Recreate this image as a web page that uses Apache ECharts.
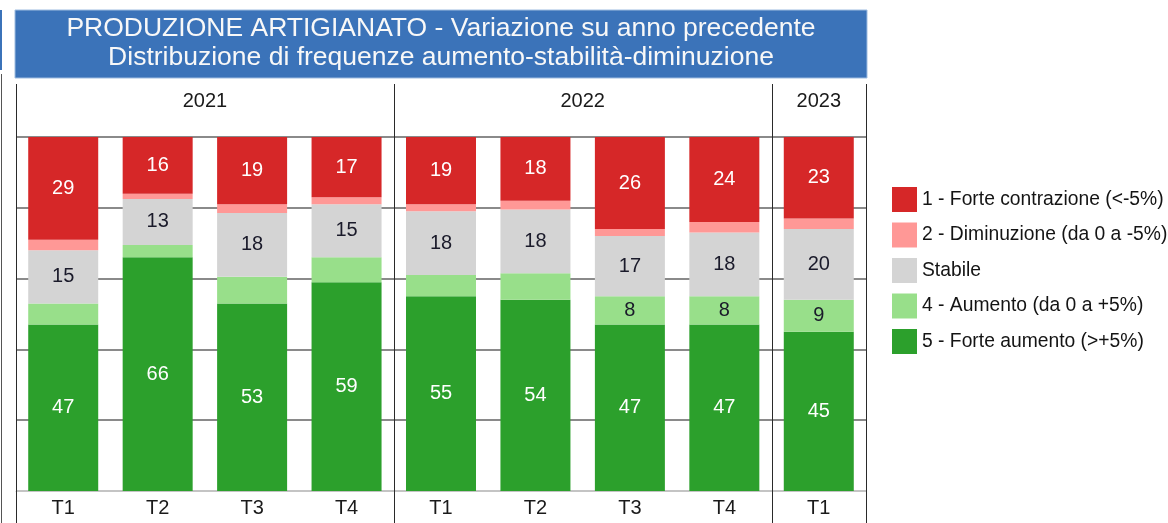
<!DOCTYPE html>
<html>
<head>
<meta charset="utf-8">
<script src="https://cdn.jsdelivr.net/npm/echarts@6/dist/echarts.min.js"></script>
<style>html,body{margin:0;padding:0;background:#fff;}#c{width:1168px;height:523px;}</style>
</head>
<body>
<div id="c"></div>
<script>
const titleLines = ['PRODUZIONE ARTIGIANATO - Variazione su anno precedente', 'Distribuzione di frequenze aumento-stabilità-diminuzione'];
const years = ['2021', '2022', '2023'];
const quarters = [['T1', 'T2', 'T3', 'T4'], ['T1', 'T2', 'T3', 'T4'], ['T1']];
const seriesNames = ['5 - Forte aumento (>+5%)', '4 - Aumento (da 0 a +5%)', 'Stabile', '2 - Diminuzione (da 0 a -5%)', '1 - Forte contrazione (<-5%)'];
const forteAumento = [47, 66, 53, 59, 55, 54, 47, 47, 45];
const aumento = [6, 3.5, 7.5, 7, 6, 7.5, 8, 8, 9];
const stabile = [15, 13, 18, 15, 18, 18, 17, 18, 20];
const diminuzione = [3, 1.5, 2.5, 2, 2, 2.5, 2, 3, 3];
const forteContrazione = [29, 16, 19, 17, 19, 18, 26, 24, 23];
const yTicks = [0, 20, 40, 60, 80, 100];

const FONT = "'Liberation Sans', Arial, sans-serif";
const colors = ['#2ca02c', '#98df8a', '#d4d4d4', '#ff9896', '#d62728'];
const labelColors = ['#ffffff', '#1a1a2a', '#1a1a2a', '#1a1a2a', '#ffffff'];
const seriesData = [forteAumento, aumento, stabile, diminuzione, forteContrazione];

const categories = [];
years.forEach((y, i) => quarters[i].forEach(q => categories.push(y + '|' + q)));

const chart = echarts.init(document.getElementById('c'), null, {renderer: 'canvas'});

const option = {
  animation: false,
  backgroundColor: '#ffffff',
  title: {
    text: titleLines.join('\n'),
    left: 441,
    textAlign: 'center',
    top: 14,
    padding: 0,
    textStyle: {color: '#f8f8f8', fontFamily: FONT, fontSize: 26.5, fontWeight: 'normal', lineHeight: 29}
  },
  legend: {
    orient: 'vertical',
    left: 887,
    top: 182,
    itemWidth: 25,
    itemHeight: 25,
    itemGap: 10.5,
    icon: 'rect',
    data: seriesNames.slice().reverse(),
    textStyle: {color: '#141414', fontFamily: FONT, fontSize: 19.3, padding: [0, 0, 0, 0]}
  },
  grid: {left: 16, right: 302, top: 137, bottom: 32, containLabel: false},
  xAxis: {
    type: 'category',
    data: categories,
    axisLine: {show: true, lineStyle: {color: '#c4c4c4', width: 1}},
    axisTick: {show: false},
    axisLabel: {
      margin: 7, color: '#1a1a1a', fontFamily: FONT, fontSize: 20,
      formatter: v => v.split('|')[1]
    }
  },
  yAxis: {
    type: 'value',
    min: yTicks[0],
    max: yTicks[yTicks.length - 1],
    interval: yTicks[1] - yTicks[0],
    axisLabel: {show: false},
    axisLine: {show: false},
    axisTick: {show: false},
    splitLine: {show: true, lineStyle: {color: ['#c4c4c4', '#8a8a8a', '#8a8a8a', '#8a8a8a', '#8a8a8a', '#8a8a8a'], width: 2}}
  },
  series: seriesNames.map((name, i) => ({
    name: name,
    type: 'bar',
    stack: 'total',
    barWidth: 70,
    itemStyle: {color: colors[i]},
    label: {
      show: true,
      position: 'inside',
      color: labelColors[i],
      fontFamily: FONT,
      fontSize: 20,
      formatter: p => (p.value >= 8 ? String(Math.round(p.value)) : '')
    },
    data: seriesData[i]
  }))
};
chart.setOption(option);

// header, separators and title box positioned through the axis scale
const px = categories.map((c, i) => chart.convertToPixel({xAxisIndex: 0}, i));
const band = px[1] - px[0];
const graphics = [];
const boundaries = [px[0] - band / 2];
let idx = 0;
years.forEach((y, i) => {
  const start = idx;
  idx += quarters[i].length;
  const left = px[start] - band / 2;
  const right = px[idx - 1] + band / 2;
  boundaries.push(right);
  graphics.push({type: 'text', z: 10, style: {text: y, x: (left + right) / 2, y: 101, align: 'center', verticalAlign: 'middle', fill: '#1a1a1a', font: '20px ' + FONT}});
});
boundaries.forEach(x => {
  graphics.push({type: 'line', z: 20, shape: {x1: Math.round(x) + 0.5, y1: 84, x2: Math.round(x) + 0.5, y2: 523}, style: {stroke: '#2a2a2a', lineWidth: 1}});
});
graphics.push({type: 'rect', z: -1, shape: {x: boundaries[0] - 1, y: 10, width: boundaries[boundaries.length - 1] - boundaries[0] + 2, height: 68}, style: {fill: '#3b73b9', stroke: '#9fbde0', lineWidth: 1}});
graphics.push({type: 'rect', z: -1, shape: {x: 0, y: 10, width: 2, height: 60}, style: {fill: '#3b73b9'}});
graphics.push({type: 'line', z: 20, shape: {x1: 1.5, y1: 74, x2: 1.5, y2: 523}, style: {stroke: '#555555', lineWidth: 1}});
chart.setOption({graphic: graphics});
</script>
</body>
</html>
